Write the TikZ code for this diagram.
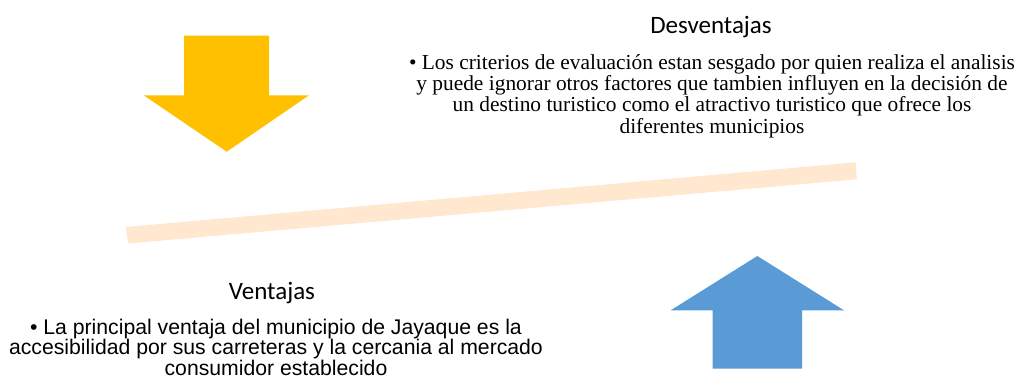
\documentclass[tikz,border=0pt]{standalone}
\usepackage{fontspec}
\setmainfont{Liberation Serif}
\newfontfamily\calibrifont{Carlito}
\newfontfamily\arialfont{Liberation Sans}
\definecolor{arrowyellow}{HTML}{FFC000}
\definecolor{arrowblue}{HTML}{5B9BD5}
\definecolor{beamcolor}{HTML}{FFE8CF}
\tikzset{
  heading/.style={font=\calibrifont\fontsize{25}{28}\selectfont, inner sep=0pt, anchor=base},
  serifbody/.style={font=\fontsize{21.4}{21.3}\selectfont, align=center, inner sep=0pt, anchor=base},
  sansbody/.style={font=\arialfont\fontsize{21.2}{20.3}\selectfont, align=center, inner sep=0pt, anchor=base},
}
\begin{document}
\begin{tikzpicture}[x=1pt,y=-1pt]
\useasboundingbox (0,0) rectangle (1015,381);
% beam
\path[fill=beamcolor] (126,227) -- (855.5,162.3) -- (857,179.3) -- (128,243.5) -- cycle;
% yellow down arrow
\path[fill=arrowyellow] (184,35.7) -- (269,35.7) -- (269,95.3) -- (309,95.3) -- (226.7,151.7) -- (143.7,95.3) -- (184,95.3) -- cycle;
% blue up arrow
\path[fill=arrowblue] (757.3,256) -- (844,310.3) -- (802,310.3) -- (802,368.7) -- (712.7,368.7) -- (712.7,310.3) -- (670.7,310.3) -- cycle;
% texts
\node[heading] (desv) at (711,33.3) {Desventajas};
\node[serifbody] (desvtxt) at (712,133) {• Los criterios de evaluación estan sesgado por quien realiza el analisis\\ y puede ignorar otros factores que tambien influyen en la decisión de\\ un destino turistico como el atractivo turistico que ofrece los\\ diferentes municipios};
\node[heading] (vent) at (272,299) {Ventajas};
\node[sansbody] (venttxt) at (276,375) {• La principal ventaja del municipio de Jayaque es la\\ accesibilidad por sus carreteras y la cercania al mercado\\ consumidor establecido};
\end{tikzpicture}
\end{document}
